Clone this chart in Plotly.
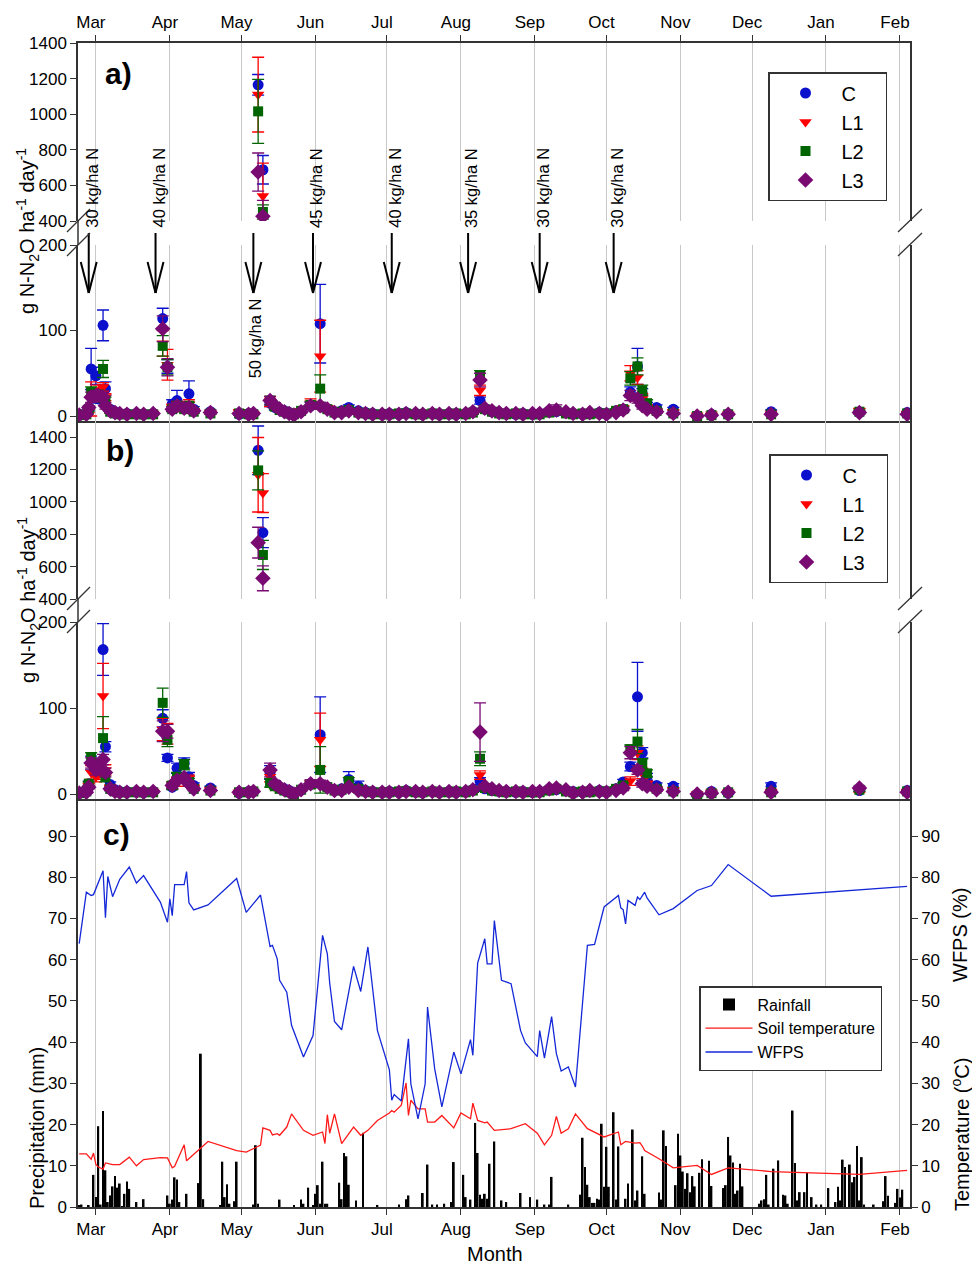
import plotly.graph_objects as go
import pandas as pd

W, H = 972, 1267
FONT = "Liberation Sans, Arial, sans-serif"


def px(x):
    return x / W


def py(y):
    return 1 - y / H


# ---------------- data: N2O fluxes ----------------
sample_dates = [
    "2015-02-22", "2015-02-25", "2015-02-26", "2015-02-27", "2015-03-01", "2015-03-02", "2015-03-04", "2015-03-05", "2015-03-07", "2015-03-09",
    "2015-03-11", "2015-03-14", "2015-03-18", "2015-03-21", "2015-03-25", "2015-03-29", "2015-03-31", "2015-04-02", "2015-04-04", "2015-04-07",
    "2015-04-09", "2015-04-11", "2015-04-18",
    "2015-04-30", "2015-05-04", "2015-05-06", "2015-05-08", "2015-05-10", "2015-05-13", "2015-05-15", "2015-05-17", "2015-05-19", "2015-05-21",
    "2015-05-23", "2015-05-26", "2015-05-30",
    "2015-06-03", "2015-06-06", "2015-06-09", "2015-06-12", "2015-06-15", "2015-06-19", "2015-06-22", "2015-06-25", "2015-06-29",
    "2015-07-02", "2015-07-06", "2015-07-09", "2015-07-13", "2015-07-16", "2015-07-20", "2015-07-23", "2015-07-27", "2015-07-30",
    "2015-08-03", "2015-08-06", "2015-08-09", "2015-08-11", "2015-08-14", "2015-08-17", "2015-08-20", "2015-08-24", "2015-08-27", "2015-08-31",
    "2015-09-03", "2015-09-07", "2015-09-10", "2015-09-14", "2015-09-17", "2015-09-21", "2015-09-24", "2015-09-28",
    "2015-10-01", "2015-10-05", "2015-10-08", "2015-10-11", "2015-10-14", "2015-10-16", "2015-10-18", "2015-10-22", "2015-10-29",
    "2015-11-08", "2015-11-14", "2015-11-21", "2015-12-09", "2016-01-15", "2016-02-04",
]

# panel a
C_a = [2, 3, 8, 55, 47, 20, 106, 32, 8, 5,
       3, 3, 3, 2, 3, 114, 58, 14, 18, 10,
       26, 8, 5,
       2, 3, 3, 1165, 688, 15, 10, 8, 6, 4, 2, 5, 12,
       108, 8, 5, 6, 10, 6, 4, 3, 2,
       3, 2, 4, 3, 2, 3, 2, 3, 2,
       3, 5, 18, 8, 5, 4, 3, 2, 3, 2,
       3, 6, 5, 4, 3, 2, 3, 4,
       3, 6, 8, 28, 58, 26, 12, 10, 8,
       0, 2, 2, 5, 4, 4]
L1_a = [1, 2, 6, 20, 25, 30, 34, 22, 6, 4,
        3, 2, 2, 2, 3, 85, 60, 10, 12, 8,
        14, 6, 4,
        5, 4, 3, 1110, 540, 16, 12, 8, 5, 3, 2, 6, 15,
        70, 9, 4, 5, 6, 4, 3, 2, 2,
        2, 2, 3, 3, 2, 2, 2, 3, 2,
        3, 4, 30, 9, 5, 3, 3, 2, 2, 2,
        3, 5, 6, 4, 3, 2, 3, 3,
        2, 5, 9, 50, 45, 20, 10, 6, 5,
        1, 2, 2, 3, 6, 3]
L2_a = [1, 2, 8, 28, 22, 25, 55, 18, 5, 3,
        2, 2, 2, 2, 2, 82, 57, 8, 12, 8,
        12, 5, 3,
        3, 2, 2, 1016, 451, 18, 11, 7, 5, 3, 2, 6, 13,
        32, 8, 4, 5, 7, 4, 3, 2, 2,
        2, 3, 3, 2, 2, 3, 2, 2, 3,
        2, 4, 47, 8, 5, 3, 2, 3, 2, 2,
        2, 4, 6, 3, 2, 3, 2, 3,
        3, 6, 8, 44, 58, 30, 15, 6, 3,
        0, 1, 2, 2, 5, 3]
L3_a = [1, 2, 10, 22, 24, 24, 22, 12, 6, 4,
        3, 2, 3, 2, 3, 102, 57, 8, 12, 9,
        10, 6, 4,
        3, 2, 3, 675, 426, 18, 12, 8, 5, 3, 1, 5, 12,
        12, 8, 4, 4, 6, 4, 3, 2, 2,
        2, 2, 3, 3, 2, 3, 2, 3, 2,
        3, 5, 42, 9, 6, 4, 3, 3, 2, 3,
        3, 6, 7, 5, 3, 2, 4, 3,
        2, 4, 7, 24, 20, 12, 8, 5, 3,
        0, 1, 2, 2, 4, 2]
err_C_a = [1, 1, 2, 24, 10, 5, 18, 8, 3, 2,
           1, 1, 1, 1, 1, 12, 8, 5, 12, 4,
           15, 3, 2,
           1, 1, 1, 58, 80, 4, 3, 2, 2, 1, 1, 2, 4,
           46, 3, 2, 2, 3, 2, 1, 1, 1,
           1, 1, 1, 1, 1, 1, 1, 1, 1,
           1, 2, 4, 3, 2, 1, 1, 1, 1, 1,
           1, 2, 2, 1, 1, 1, 1, 1,
           1, 2, 3, 6, 21, 6, 4, 3, 2,
           1, 1, 1, 2, 1, 1]
err_L1_a = [1, 1, 2, 20, 8, 6, 5, 4, 2, 1,
            1, 1, 1, 1, 1, 15, 18, 4, 5, 3,
            5, 2, 2,
            2, 2, 1, 210, 185, 5, 3, 2, 2, 1, 1, 2, 5,
            42, 3, 2, 2, 2, 2, 1, 1, 1,
            1, 1, 1, 1, 1, 1, 1, 1, 1,
            1, 2, 6, 3, 2, 1, 1, 1, 1, 1,
            1, 2, 2, 1, 1, 1, 1, 1,
            1, 2, 3, 9, 8, 6, 3, 2, 2,
            1, 1, 1, 1, 3, 1]
err_L2_a = [1, 1, 2, 6, 6, 5, 10, 4, 2, 1,
            1, 1, 1, 1, 1, 12, 9, 3, 4, 3,
            4, 2, 1,
            1, 1, 1, 180, 40, 5, 3, 2, 2, 1, 1, 2, 4,
            16, 3, 2, 2, 2, 2, 1, 1, 1,
            1, 1, 1, 1, 1, 1, 1, 1, 1,
            1, 2, 6, 3, 2, 1, 1, 1, 1, 1,
            1, 2, 2, 1, 1, 1, 1, 1,
            1, 2, 3, 8, 10, 6, 4, 2, 1,
            1, 1, 1, 1, 2, 1]
err_L3_a = [1, 1, 2, 6, 6, 5, 5, 4, 2, 1,
            1, 1, 1, 1, 1, 15, 10, 3, 4, 3,
            3, 2, 1,
            1, 1, 1, 107, 90, 5, 3, 2, 2, 1, 1, 2, 4,
            4, 3, 2, 2, 2, 2, 1, 1, 1,
            1, 1, 1, 1, 1, 1, 1, 1, 1,
            1, 2, 8, 3, 2, 1, 1, 1, 1, 1,
            1, 2, 6, 2, 1, 1, 1, 1,
            1, 2, 3, 6, 5, 4, 3, 2, 1,
            1, 1, 1, 1, 2, 1]

# panel b
C_b = [2, 3, 12, 36, 30, 25, 168, 55, 11, 5,
       3, 3, 3, 2, 3, 88, 42, 8, 30, 36,
       20, 10, 7,
       1, 3, 3, 1318, 810, 25, 12, 8, 6, 4, 0, 5, 12,
       69, 8, 5, 6, 17, 9, 4, 3, 2,
       3, 2, 4, 3, 2, 3, 2, 3, 2,
       3, 5, 15, 6, 4, 3, 3, 2, 3, 2,
       3, 6, 5, 4, 3, 2, 3, 4,
       3, 6, 14, 32, 113, 48, 20, 10, 9,
       -1, 3, 1, 9, 4, 4]
L1_b = [1, 2, 10, 25, 20, 22, 114, 28, 8, 3,
        3, 2, 2, 2, 3, 75, 70, 10, 14, 17,
        18, 8, 5,
        2, 3, 3, 1167, 1054, 20, 10, 7, 4, 3, 1, 5, 12,
        63, 8, 4, 5, 7, 4, 3, 2, 2,
        2, 2, 3, 3, 2, 2, 2, 3, 2,
        3, 4, 22, 8, 5, 3, 3, 2, 2, 2,
        3, 5, 6, 4, 3, 2, 3, 3,
        2, 4, 8, 15, 48, 24, 12, 6, 5,
        0, 2, 2, 3, 4, 3]
L2_b = [1, 3, 12, 42, 35, 30, 65, 20, 6, 3,
        2, 2, 2, 2, 2, 106, 63, 10, 20, 34,
        14, 6, 4,
        2, 2, 3, 1194, 672, 13, 9, 6, 4, 2, 0, 5, 11,
        28, 8, 4, 5, 15, 6, 3, 2, 2,
        2, 3, 3, 2, 2, 3, 2, 2, 3,
        2, 4, 41, 7, 4, 3, 2, 3, 2, 2,
        2, 4, 6, 3, 2, 3, 2, 3,
        3, 6, 10, 52, 61, 35, 24, 6, 3,
        -2, 1, 2, 2, 5, 3]
L3_b = [1, 2, 8, 36, 28, 30, 40, 25, 6, 3,
        2, 2, 3, 2, 3, 73, 73, 10, 16, 19,
        12, 6, 4,
        2, 2, 3, 748, 528, 28, 12, 8, 5, 3, 0, 5, 12,
        12, 8, 4, 4, 8, 4, 3, 2, 2,
        2, 2, 3, 3, 2, 3, 2, 3, 2,
        3, 5, 72, 9, 6, 4, 3, 3, 2, 3,
        3, 6, 7, 5, 1, 2, 4, 3,
        2, 4, 7, 48, 28, 12, 9, 5, 3,
        0, 1, 2, 2, 7, 2]
err_C_b = [1, 1, 3, 8, 6, 5, 30, 6, 3, 2,
           1, 1, 1, 1, 1, 10, 4, 3, 6, 6,
           5, 3, 2,
           1, 1, 1, 150, 93, 8, 3, 2, 2, 1, 1, 2, 4,
           44, 3, 2, 2, 9, 6, 1, 1, 1,
           1, 1, 1, 1, 1, 1, 1, 1, 1,
           1, 2, 4, 3, 2, 1, 1, 1, 1, 1,
           1, 2, 2, 1, 1, 1, 1, 1,
           1, 2, 3, 5, 40, 6, 4, 3, 3,
           1, 1, 1, 4, 1, 1]
err_L1_b = [1, 1, 2, 8, 6, 5, 38, 6, 2, 1,
            1, 1, 1, 1, 1, 13, 12, 4, 5, 4,
            4, 2, 2,
            2, 2, 1, 230, 120, 6, 3, 2, 2, 1, 1, 2, 4,
            31, 3, 2, 2, 2, 2, 1, 1, 1,
            1, 1, 1, 1, 1, 1, 1, 1, 1,
            1, 2, 5, 3, 2, 1, 1, 1, 1, 1,
            1, 2, 2, 1, 1, 1, 1, 1,
            1, 2, 3, 5, 8, 6, 3, 2, 2,
            1, 1, 1, 1, 2, 1]
err_L2_b = [1, 1, 2, 6, 6, 5, 25, 6, 2, 1,
            1, 1, 1, 1, 1, 17, 8, 4, 5, 6,
            4, 2, 1,
            1, 1, 1, 120, 90, 5, 3, 2, 2, 1, 1, 2, 4,
            27, 3, 2, 2, 4, 2, 1, 1, 1,
            1, 1, 1, 1, 1, 1, 1, 1, 1,
            1, 2, 8, 3, 2, 1, 1, 1, 1, 1,
            1, 2, 2, 1, 1, 1, 1, 1,
            1, 2, 3, 5, 14, 6, 4, 2, 1,
            1, 1, 1, 1, 2, 1]
err_L3_b = [1, 1, 2, 6, 6, 5, 6, 5, 2, 1,
            1, 1, 1, 1, 1, 12, 8, 3, 4, 3,
            3, 2, 1,
            1, 1, 1, 95, 77, 8, 3, 2, 2, 1, 1, 2, 4,
            4, 3, 2, 2, 2, 2, 1, 1, 1,
            1, 1, 1, 1, 1, 1, 1, 1, 1,
            1, 2, 34, 3, 2, 1, 1, 1, 1, 1,
            1, 2, 2, 1, 1, 1, 1, 1,
            1, 2, 3, 7, 5, 4, 3, 2, 1,
            1, 1, 1, 1, 2, 1]

# fertiliser applications
fert_dates = ["2015-02-26", "2015-03-26", "2015-05-06", "2015-05-31",
              "2015-07-03", "2015-08-04", "2015-09-03", "2015-10-04"]
fert_labels = ["30 kg/ha N", "40 kg/ha N", "50 kg/ha N", "45 kg/ha N",
               "40 kg/ha N", "35 kg/ha N", "30 kg/ha N", "30 kg/ha N"]

# ---------------- data: environment ----------------
rain_dates = [
    "2015-02-22", "2015-02-23", "2015-02-26", "2015-02-28", "2015-03-01", "2015-03-02", "2015-03-03", "2015-03-04", "2015-03-05", "2015-03-06",
    "2015-03-07", "2015-03-08", "2015-03-09", "2015-03-10", "2015-03-11", "2015-03-12", "2015-03-13", "2015-03-14", "2015-03-15", "2015-03-18",
    "2015-03-21", "2015-03-31", "2015-04-01", "2015-04-02", "2015-04-03", "2015-04-04", "2015-04-05", "2015-04-08", "2015-04-13", "2015-04-14",
    "2015-04-15", "2015-04-22", "2015-04-23", "2015-04-24", "2015-04-25", "2015-04-26", "2015-04-28", "2015-04-29", "2015-05-06", "2015-05-07",
    "2015-05-08", "2015-05-17", "2015-05-23", "2015-05-26", "2015-05-27", "2015-05-29", "2015-05-31", "2015-06-01", "2015-06-02", "2015-06-03",
    "2015-06-04", "2015-06-05", "2015-06-06", "2015-06-11", "2015-06-12", "2015-06-13", "2015-06-14", "2015-06-15", "2015-06-18", "2015-06-21",
    "2015-06-27", "2015-07-06", "2015-07-09", "2015-07-10", "2015-07-16", "2015-07-18", "2015-07-20", "2015-07-22", "2015-07-25", "2015-07-28",
    "2015-07-29", "2015-08-02", "2015-08-03", "2015-08-05", "2015-08-07", "2015-08-08", "2015-08-09", "2015-08-10", "2015-08-11", "2015-08-12",
    "2015-08-13", "2015-08-15", "2015-08-18", "2015-08-20", "2015-08-26", "2015-08-30", "2015-09-02", "2015-09-05", "2015-09-07", "2015-09-08",
    "2015-09-15", "2015-09-20", "2015-09-21", "2015-09-22", "2015-09-23", "2015-09-24", "2015-09-25", "2015-09-26", "2015-09-27", "2015-09-28",
    "2015-09-29", "2015-09-30", "2015-10-01", "2015-10-02", "2015-10-04", "2015-10-05", "2015-10-06", "2015-10-09", "2015-10-10", "2015-10-12",
    "2015-10-13", "2015-10-14", "2015-10-16", "2015-10-17", "2015-10-23", "2015-10-24", "2015-10-25", "2015-10-26", "2015-10-30", "2015-10-31",
    "2015-11-01", "2015-11-02", "2015-11-03", "2015-11-04", "2015-11-05", "2015-11-06", "2015-11-07", "2015-11-09", "2015-11-10", "2015-11-13",
    "2015-11-14", "2015-11-19", "2015-11-20", "2015-11-21", "2015-11-22", "2015-11-23", "2015-11-24", "2015-11-25", "2015-11-26", "2015-11-27",
    "2015-12-04", "2015-12-05", "2015-12-06", "2015-12-07", "2015-12-08", "2015-12-10", "2015-12-12", "2015-12-14", "2015-12-15", "2015-12-16",
    "2015-12-18", "2015-12-19", "2015-12-20", "2015-12-21", "2015-12-23", "2015-12-24", "2015-12-26", "2015-12-28", "2015-12-30", "2016-01-02",
    "2016-01-05", "2016-01-06", "2016-01-07", "2016-01-08", "2016-01-09", "2016-01-11", "2016-01-12", "2016-01-13", "2016-01-14", "2016-01-15",
    "2016-01-16", "2016-01-17", "2016-01-21", "2016-01-25", "2016-01-26", "2016-01-27", "2016-01-30", "2016-01-31", "2016-02-01", "2016-02-02",
]
rain_mm = [
    0.4, 0.6, 0.3, 7.8, 2.4, 19.6, 0.6, 23.3, 8.9, 1.2,
    2.8, 5.0, 7.5, 4.7, 5.7, 0.2, 3.2, 6.2, 4.4, 1.2,
    1.9, 2.8, 0.8, 1.8, 7.2, 6.7, 1.2, 3.2, 5.8, 37.2,
    1.9, 0.3, 11.0, 2.4, 5.5, 0.8, 1.4, 11.0, 0.6, 15.0,
    0.8, 1.8, 0.3, 1.8, 0.8, 4.7, 0.5, 3.2, 5.3, 0.8,
    11.0, 0.8, 0.8, 5.9, 1.9, 13.1, 12.3, 5.4, 1.6, 18.0,
    0.5, 0.6, 1.9, 2.8, 3.4, 10.3, 0.6, 0.6, 0.8, 1.2,
    10.9, 7.8, 2.4, 1.8, 20.4, 13.1, 3.0, 2.0, 3.2, 2.0,
    10.5, 15.9, 1.6, 1.2, 3.4, 2.4, 1.8, 0.6, 0.6, 7.3,
    0.6, 3.0, 16.8, 9.7, 5.4, 2.4, 1.0, 1.0, 2.0, 1.8,
    20.2, 4.9, 14.6, 4.9, 23.0, 1.8, 14.7, 2.0, 5.7, 18.8,
    1.6, 4.0, 12.3, 3.2, 3.5, 1.8, 18.6, 14.8, 5.3, 17.8,
    12.5, 8.6, 4.4, 8.2, 3.6, 7.5, 5.0, 8.3, 11.6, 11.2,
    5.1, 4.6, 5.3, 17.0, 12.5, 10.8, 3.2, 4.0, 10.5, 5.0,
    0.8, 1.6, 1.9, 7.8, 0.6, 9.3, 11.3, 3.0, 2.8, 0.8,
    23.4, 10.7, 1.6, 3.6, 3.6, 8.3, 2.4, 0.6, 0.6, 4.6,
    1.2, 4.9, 1.6, 11.5, 9.7, 10.3, 6.0, 7.3, 14.8, 1.6,
    12.1, 0.6, 0.6, 1.4, 7.5, 2.7, 1.0, 4.4, 2.3, 4.2,
]

wfps_dates = [
    "2015-02-22", "2015-02-25", "2015-02-27", "2015-02-28", "2015-03-04", "2015-03-05", "2015-03-06", "2015-03-08", "2015-03-11", "2015-03-15",
    "2015-03-18", "2015-03-21", "2015-03-28", "2015-03-31", "2015-04-01", "2015-04-02", "2015-04-03", "2015-04-07", "2015-04-08", "2015-04-09",
    "2015-04-11", "2015-04-17", "2015-04-29", "2015-05-03", "2015-05-09", "2015-05-13", "2015-05-14", "2015-05-16", "2015-05-17", "2015-05-20",
    "2015-05-22", "2015-05-27", "2015-05-31", "2015-06-04", "2015-06-06", "2015-06-07", "2015-06-09", "2015-06-12", "2015-06-17", "2015-06-20",
    "2015-06-23", "2015-06-27", "2015-07-02", "2015-07-03", "2015-07-04", "2015-07-07", "2015-07-10", "2015-07-11", "2015-07-14", "2015-07-17",
    "2015-07-18", "2015-07-21", "2015-07-24", "2015-07-29", "2015-08-01", "2015-08-05", "2015-08-06", "2015-08-08", "2015-08-11", "2015-08-12",
    "2015-08-14", "2015-08-15", "2015-08-18", "2015-08-22", "2015-08-26", "2015-08-28", "2015-09-02", "2015-09-03", "2015-09-05", "2015-09-08",
    "2015-09-10", "2015-09-12", "2015-09-15", "2015-09-18", "2015-09-23", "2015-09-26", "2015-09-30", "2015-10-06", "2015-10-07", "2015-10-08",
    "2015-10-09", "2015-10-10", "2015-10-13", "2015-10-14", "2015-10-15", "2015-10-17", "2015-10-18", "2015-10-23", "2015-10-29", "2015-11-08",
    "2015-11-14", "2015-11-21", "2015-12-09", "2016-02-04",
]
wfps = [
    63.9, 76.4, 75.6, 75.8, 81.6, 70.2, 80.2, 75.3, 79.5, 82.5,
    78.6, 80.4, 74.0, 69.1, 74.8, 70.7, 78.2, 78.2, 81.4, 73.8,
    72.1, 73.3, 79.7, 71.5, 75.7, 63.2, 63.5, 60.2, 55.0, 52.1,
    44.1, 36.4, 41.6, 65.9, 61.4, 54.3, 45.0, 43.0, 58.4, 52.3,
    63.1, 42.8, 33.3, 25.9, 27.3, 25.7, 40.8, 29.9, 21.4, 29.9,
    48.5, 33.5, 24.3, 37.6, 32.3, 40.6, 36.8, 59.2, 65.1, 59.0,
    59.0, 69.5, 55.0, 54.2, 42.8, 39.8, 36.5, 42.8, 36.1, 46.2,
    37.2, 33.0, 34.0, 29.1, 63.5, 63.7, 72.8, 75.6, 72.6, 72.1,
    68.7, 74.4, 73.2, 75.2, 74.6, 76.4, 75.0, 70.9, 72.4, 76.8,
    78.0, 83.1, 75.4, 77.8,
]

temp_dates = [
    "2015-02-22", "2015-02-25", "2015-02-27", "2015-02-28", "2015-03-01", "2015-03-02", "2015-03-04", "2015-03-05", "2015-03-08", "2015-03-11",
    "2015-03-15", "2015-03-18", "2015-03-21", "2015-03-28", "2015-03-31", "2015-04-02", "2015-04-03", "2015-04-07", "2015-04-08", "2015-04-11",
    "2015-04-17", "2015-04-29", "2015-05-03", "2015-05-09", "2015-05-10", "2015-05-13", "2015-05-14", "2015-05-16", "2015-05-17", "2015-05-20",
    "2015-05-22", "2015-05-27", "2015-05-31", "2015-06-04", "2015-06-05", "2015-06-06", "2015-06-07", "2015-06-09", "2015-06-12", "2015-06-17",
    "2015-06-20", "2015-06-23", "2015-06-27", "2015-07-02", "2015-07-03", "2015-07-04", "2015-07-07", "2015-07-09", "2015-07-10", "2015-07-11",
    "2015-07-14", "2015-07-17", "2015-07-18", "2015-07-21", "2015-07-24", "2015-07-29", "2015-08-01", "2015-08-05", "2015-08-06", "2015-08-08",
    "2015-08-11", "2015-08-12", "2015-08-15", "2015-08-22", "2015-08-28", "2015-09-02", "2015-09-05", "2015-09-08", "2015-09-10", "2015-09-12",
    "2015-09-15", "2015-09-18", "2015-09-23", "2015-09-30", "2015-10-06", "2015-10-07", "2015-10-09", "2015-10-13", "2015-10-15", "2015-10-16",
    "2015-10-17", "2015-10-23", "2015-10-29", "2015-11-08", "2015-11-14", "2015-11-21", "2015-12-09", "2016-01-15", "2016-02-04",
]
soil_temp = [
    12.9, 12.9, 11.6, 13.1, 10.3, 9.7, 9.2, 10.7, 10.3, 10.3,
    12.1, 10.0, 11.5, 12.0, 11.9, 9.5, 9.9, 15.1, 11.2, 12.7,
    15.9, 13.7, 13.3, 15.0, 19.2, 18.6, 17.5, 17.8, 17.4, 19.4,
    22.6, 18.6, 17.4, 18.2, 15.4, 22.4, 17.9, 22.6, 15.4, 19.4,
    17.4, 18.6, 21.0, 22.8, 23.4, 23.0, 24.7, 30.1, 22.2, 25.9,
    23.8, 23.8, 20.6, 20.6, 22.2, 19.2, 22.8, 21.4, 25.2, 21.0,
    20.4, 20.6, 18.6, 19.0, 20.2, 17.9, 15.1, 17.4, 22.0, 17.9,
    19.0, 22.6, 19.0, 17.0, 18.2, 15.1, 15.9, 15.5, 15.6, 14.8,
    13.7, 11.7, 9.5, 10.1, 7.9, 9.5, 8.6, 7.9, 8.9,
]

month_starts = ["2015-03-01", "2015-04-01", "2015-05-01", "2015-06-01", "2015-07-01", "2015-08-01",
                "2015-09-01", "2015-10-01", "2015-11-01", "2015-12-01", "2016-01-01", "2016-02-01"]
month_names = ["Mar", "Apr", "May", "Jun", "Jul", "Aug", "Sep", "Oct", "Nov", "Dec", "Jan", "Feb"]

x_range = ["2015-02-21 12:00", "2016-02-05 05:00"]

# ---------------- figure ----------------
fig = go.Figure()

NB = "\u00a0\u00a0\u00a0"  # trailing padding inside the legend box
series_style = [
    ("C", "#0a10cc", "circle", 11),
    ("L1", "#ff0000", "triangle-down", 11),
    ("L2", "#006400", "square", 10),
    ("L3", "#780a72", "diamond", 12),
]
panel_a = [(C_a, err_C_a), (L1_a, err_L1_a), (L2_a, err_L2_a), (L3_a, err_L3_a)]
panel_b = [(C_b, err_C_b), (L1_b, err_L1_b), (L2_b, err_L2_b), (L3_b, err_L3_b)]

for panel, (xu, yu, xl, yl, leg) in ((panel_a, ("x2", "y2", "x3", "y3", "legend")),
                                      (panel_b, ("x4", "y4", "x5", "y5", "legend2"))):
    for (vals, errs), (name, col, sym, size) in zip(panel, series_style):
        for xa, ya, show in ((xu, yu, True), (xl, yl, False)):
            fig.add_trace(go.Scatter(
                x=sample_dates, y=vals, mode="markers", name=name + NB,
                xaxis=xa, yaxis=ya, showlegend=show, legend=leg,
                marker=dict(color=col, symbol=sym, size=size, line=dict(width=0)),
                error_y=dict(type="data", array=errs, color=col, thickness=1.3, width=6),
            ))

fig.add_trace(go.Bar(x=rain_dates, y=rain_mm, name="Rainfall", xaxis="x", yaxis="y",
                     marker=dict(color="black", line=dict(width=0)),
                     width=0.75 * 86400000, legend="legend3"))
fig.add_trace(go.Scatter(x=temp_dates, y=soil_temp, mode="lines", name="Soil temperature",
                         xaxis="x", yaxis="y6", line=dict(color="#ff1a1a", width=1.3),
                         legend="legend3"))
fig.add_trace(go.Scatter(x=wfps_dates, y=wfps, mode="lines", name="WFPS",
                         xaxis="x", yaxis="y6", line=dict(color="#1428d8", width=1.3),
                         legend="legend3"))

AX = "#333333"
tickfont = dict(family=FONT, size=17, color="black")
xdom = [px(78), px(910)]


def xaxis(anchor, showline, labels=False, side="bottom", ticks=""):
    return dict(type="date", domain=xdom, anchor=anchor, range=x_range,
                tickmode="array", tickvals=month_starts, ticktext=month_names,
                showticklabels=labels, side=side, ticks=ticks, ticklen=6,
                tickcolor=AX, tickwidth=1.3, ticklabelshift=-5,
                showgrid=True, gridcolor="#c8c8c8", gridwidth=1,
                showline=showline, linecolor=AX, linewidth=1.5,
                tickfont=tickfont, zeroline=False, automargin=False)


def yaxis(anchor, dom, rng, tickvals, mirror=True):
    return dict(domain=dom, anchor=anchor, range=rng, tickmode="array", tickvals=tickvals,
                ticks="outside", ticklen=6, tickcolor=AX, tickwidth=1.3,
                showline=True, linecolor=AX, linewidth=1.5, mirror=mirror,
                showgrid=False, zeroline=False, tickfont=tickfont, automargin=False)


legend_common = dict(xanchor="left", yanchor="top", bordercolor=AX, borderwidth=1.5,
                     bgcolor="white", tracegroupgap=0)

fig.update_layout(
    width=W, height=H, autosize=False,
    margin=dict(l=0, r=0, t=0, b=0, pad=0, autoexpand=False),
    paper_bgcolor="white", plot_bgcolor="white",
    font=dict(family=FONT, color="black"),
    showlegend=True,
    xaxis=xaxis("y", True, labels=True, ticks="outside"),
    xaxis2=dict(xaxis("y2", True, labels=True, side="top", ticks="outside"), matches="x"),
    xaxis3=dict(xaxis("y3", True), matches="x"),
    xaxis4=dict(xaxis("y4", False), matches="x"),
    xaxis5=dict(xaxis("y5", True), matches="x"),
    yaxis=yaxis("x", [py(1207), py(799)], [0, 99], list(range(0, 100, 10)), mirror=False),
    yaxis2=yaxis("x2", [py(221), py(43)], [400, 1400], [400, 600, 800, 1000, 1200, 1400]),
    yaxis3=yaxis("x3", [py(421), py(245)], [-5.85, 200], [0, 100, 200]),
    yaxis4=yaxis("x4", [py(599), py(421)], [400, 1499], [400, 600, 800, 1000, 1200, 1400]),
    yaxis5=yaxis("x5", [py(799), py(622)], [-5.8, 200], [0, 100, 200]),
    yaxis6=dict(yaxis("x", [py(1207), py(799)], [0, 99], list(range(0, 100, 10)), mirror=False),
                overlaying="y", side="right"),
    legend=dict(legend_common, x=px(768), y=py(72), itemwidth=62, font=dict(family=FONT, size=20)),
    legend2=dict(legend_common, x=px(769), y=py(454), itemwidth=62, font=dict(family=FONT, size=20)),
    legend3=dict(legend_common, x=px(699), y=py(986), itemwidth=47, font=dict(family=FONT, size=16)),
)

shapes = []
annotations = []

# fertiliser arrows and labels (panel a)
for d, lab in zip(fert_dates, fert_labels):
    t = pd.Timestamp(d)
    xs = t.strftime("%Y-%m-%d %H:%M")
    xl = (t - pd.Timedelta(hours=80)).strftime("%Y-%m-%d %H:%M")
    xr = (t + pd.Timedelta(hours=80)).strftime("%Y-%m-%d %H:%M")
    ln = dict(color="black", width=2)
    shapes.append(dict(type="line", xref="x", yref="paper", x0=xs, x1=xs, y0=py(233), y1=py(293), line=ln))
    shapes.append(dict(type="line", xref="x", yref="paper", x0=xl, x1=xs, y0=py(262), y1=py(293), line=ln))
    shapes.append(dict(type="line", xref="x", yref="paper", x0=xr, x1=xs, y0=py(262), y1=py(293), line=ln))
    if lab.startswith("50"):
        annotations.append(dict(x=xs, y=py(296), xref="x", yref="paper", text=lab, showarrow=False,
                                textangle=-90, xanchor="center", yanchor="top", xshift=2,
                                font=dict(family=FONT, size=16.5, color="black")))
    else:
        annotations.append(dict(x=xs, y=py(230), xref="x", yref="paper", text=lab, showarrow=False,
                                textangle=-90, xanchor="center", yanchor="bottom", xshift=3,
                                font=dict(family=FONT, size=16.5, color="black")))

# axis breaks
brk = dict(color=AX, width=1.3)
for (ya, yb) in ((221, 245), (599, 622)):
    shapes.append(dict(type="line", xref="paper", yref="paper", x0=px(78), x1=px(78),
                       y0=py(ya), y1=py(yb), line=dict(color=AX, width=1.5)))
    for dy in (ya + 11, yb + 11):
        shapes.append(dict(type="line", xref="paper", yref="paper", x0=px(67), x1=px(90),
                           y0=py(dy), y1=py(dy - 23), line=brk))
        shapes.append(dict(type="line", xref="paper", yref="paper", x0=px(898), x1=px(922),
                           y0=py(dy), y1=py(dy - 23), line=brk))

# panel letters
for lab, (x, y) in (("a)", (118, 74)), ("b)", (120, 451)), ("c)", (116, 834))):
    annotations.append(dict(x=px(x), y=py(y), xref="paper", yref="paper", text="<b>%s</b>" % lab,
                            showarrow=False, xanchor="center", yanchor="middle",
                            font=dict(family=FONT, size=30, color="black")))

ytitle = "g N-N<sub>2</sub>O ha<sup>-1</sup> day<sup>-1</sup>"
for (x, y, txt) in ((28, 231, ytitle), (28, 600, ytitle), (37, 1128, "Precipitation (mm)"),
                    (960, 935, "WFPS (%)"), (960, 1135, "Temperature (<sup>o</sup>C)")):
    annotations.append(dict(x=px(x), y=py(y), xref="paper", yref="paper", text=txt,
                            showarrow=False, textangle=-90, xanchor="center", yanchor="middle",
                            font=dict(family=FONT, size=20, color="black")))
annotations.append(dict(x=px(495), y=py(1254), xref="paper", yref="paper", text="Month",
                        showarrow=False, xanchor="center", yanchor="middle",
                        font=dict(family=FONT, size=20, color="black")))

fig.update_layout(shapes=shapes, annotations=annotations)

fig.write_html("out.html")
